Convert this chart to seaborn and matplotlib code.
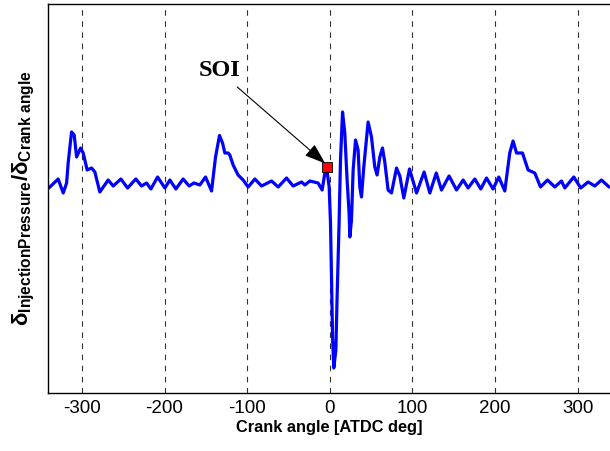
import matplotlib
matplotlib.use("Agg")
import matplotlib.pyplot as plt
import seaborn as sns
import pandas as pd

# Crank angle [ATDC deg] and derivative signal (arbitrary units)
crank_angle = [-340, -328.7, -322.6, -318.5, -316.6, -312.5, -309.3, -306.4, -301.6, -298.4,
               -293.6, -288.3, -284.3, -278.3, -268.2, -262.1, -252.8, -244.7, -234.7, -227.8,
               -221.7, -216.5, -208.4, -199.6, -193.5, -186.3, -177.5, -170.2, -164.5, -157.3,
               -150.4, -143.1, -138.3, -133.5, -129.8, -127, -123, -121, -117, -111,
               -104.9, -98.8, -90.7, -82.6, -70.5, -62.5, -52.4, -44.4, -34.2, -30.2,
               -24.2, -14.2, -9.3, -6.0, -4.0, -0.8, 0.8, 2.1, 3.3, 4.8,
               7.3, 8.8, 11.2, 12.9, 15.4, 18.1, 20.9, 23.3, 24.2, 26.2,
               28.2, 31.1, 34.2, 36.3, 38.3, 41.1, 46.3, 50.4, 54.4, 57.2,
               60.5, 63.7, 66.5, 70.5, 74.6, 80.7, 84.7, 89.5, 96.4, 104.9,
               114.1, 121, 128.8, 135.1, 144.3, 153.3, 161.3, 167.3, 175.4, 182.7,
               189.6, 197.5, 204.4, 211.7, 217.7, 221.7, 225.9, 233.1, 239.9, 248,
               254.9, 263.4, 272.2, 280.3, 284.3, 295.2, 303.6, 312.5, 320.6, 328.7, 337.9]
dp_dtheta = [-0.5, 0.4, -1.0, 0.0, 2.0, 5.1, 4.8, 2.6, 3.5, 3.0,
             1.3, 1.5, 1.1, -0.9, 0.3, -0.3, 0.4, -0.5, 0.4, -0.3,
             0.0, -0.6, 0.6, -0.5, 0.3, -0.6, 0.4, -0.3, 0.0, -0.2,
             0.6, -0.8, 2.6, 4.75, 4.0, 3.0, 3.0, 2.8, 1.8, 0.8,
             0.3, -0.4, 0.4, -0.3, 0.2, -0.4, 0.5, -0.3, 0.1, -0.2,
             0.2, 0.0, -0.7, 1.0, 1.6, -0.4, -4.0, -9.7, -15.4, -18.5,
             -16.7, -11.4, -4.0, 2.3, 7.1, 5.0, 0.3, -3.0, -5.4, -3.7,
             1.3, 4.3, 3.3, -0.4, -1.4, 1.6, 6.1, 4.6, 1.6, 0.8,
             2.6, 3.5, 2.1, -0.7, -1.0, 1.5, 0.7, -1.5, 1.4, -1.0,
             1.1, -1.0, 1.0, -0.7, 0.7, -0.7, 0.3, -0.5, 0.4, -0.6,
             0.5, -0.6, 0.6, -0.8, 3.0, 4.2, 3.0, 3.0, 1.3, 1.0,
             -0.4, 0.3, -0.4, 0.2, -0.5, 0.6, -0.5, 0.1, -0.3, 0.3, -0.4]

soi_angle = [-4.0]
soi_value = [1.6]
soi_label = "SOI"
x_ticks = [-300, -200, -100, 0, 100, 200, 300]

sns.set_theme(style="white")
plt.rcParams["font.family"] = ["Liberation Sans", "DejaVu Sans"]
plt.rcParams["mathtext.fontset"] = "custom"
plt.rcParams["mathtext.rm"] = "Liberation Sans"
plt.rcParams["mathtext.bf"] = "Liberation Sans:bold"
plt.rcParams["mathtext.it"] = "Liberation Sans:italic"
plt.rcParams["mathtext.sf"] = "Liberation Sans"

df = pd.DataFrame({"angle": crank_angle, "val": dp_dtheta})

fig = plt.figure(figsize=(6.10, 4.51), dpi=100)
ax = fig.add_axes([48 / 610, 58 / 451, 1 - 48 / 610, (393 - 4) / 451])

for t in x_ticks:
    ax.axvline(t, color="#333333", lw=0.8, ls=(0, (5, 5)), zorder=0)

sns.lineplot(data=df, x="angle", y="val", ax=ax, color="#0000ff", lw=2.3,
             sort=False, estimator=None, zorder=2)

ax.plot(soi_angle, soi_value, ls="none", marker="s", ms=7, mfc="#ff0000",
        mec="black", mew=0.6, zorder=4)

ax.annotate("", xy=(soi_angle[0] - 1.5, soi_value[0] + 0.35), xytext=(-112, 9.6),
            arrowprops=dict(arrowstyle="-|>,head_length=1.0,head_width=0.35",
                            color="black", lw=0.8, mutation_scale=13,
                            shrinkA=0, shrinkB=0), zorder=5)
ax.text(-133, 11.3, soi_label, ha="center", va="center", fontsize=17.5,
        fontweight="bold", color="black", family=["Liberation Serif", "DejaVu Serif"])

ax.set_xlim(-341, 339)
ax.set_ylim(-21.0, 17.9)
ax.set_xticks(x_ticks)
ax.set_xticklabels([str(t) for t in x_ticks])
ax.set_yticks([])
ax.tick_params(axis="x", direction="in", length=4, width=0.8, color="black",
               labelsize=13.5, pad=5, labelcolor="black")

for s in ["left", "top", "bottom"]:
    ax.spines[s].set_visible(True)
    ax.spines[s].set_color("black")
    ax.spines[s].set_linewidth(1.0)
ax.spines["right"].set_visible(False)

ax.set_xlabel("Crank angle [ATDC deg]", fontsize=11.8, fontweight="bold",
              color="black", labelpad=2)
ax.set_ylabel(r"$\mathbf{\delta_{InjectionPressure}/\delta_{Crank\ angle}}$",
              fontsize=16, color="black", labelpad=8)

fig.savefig("out.png", dpi=100)
